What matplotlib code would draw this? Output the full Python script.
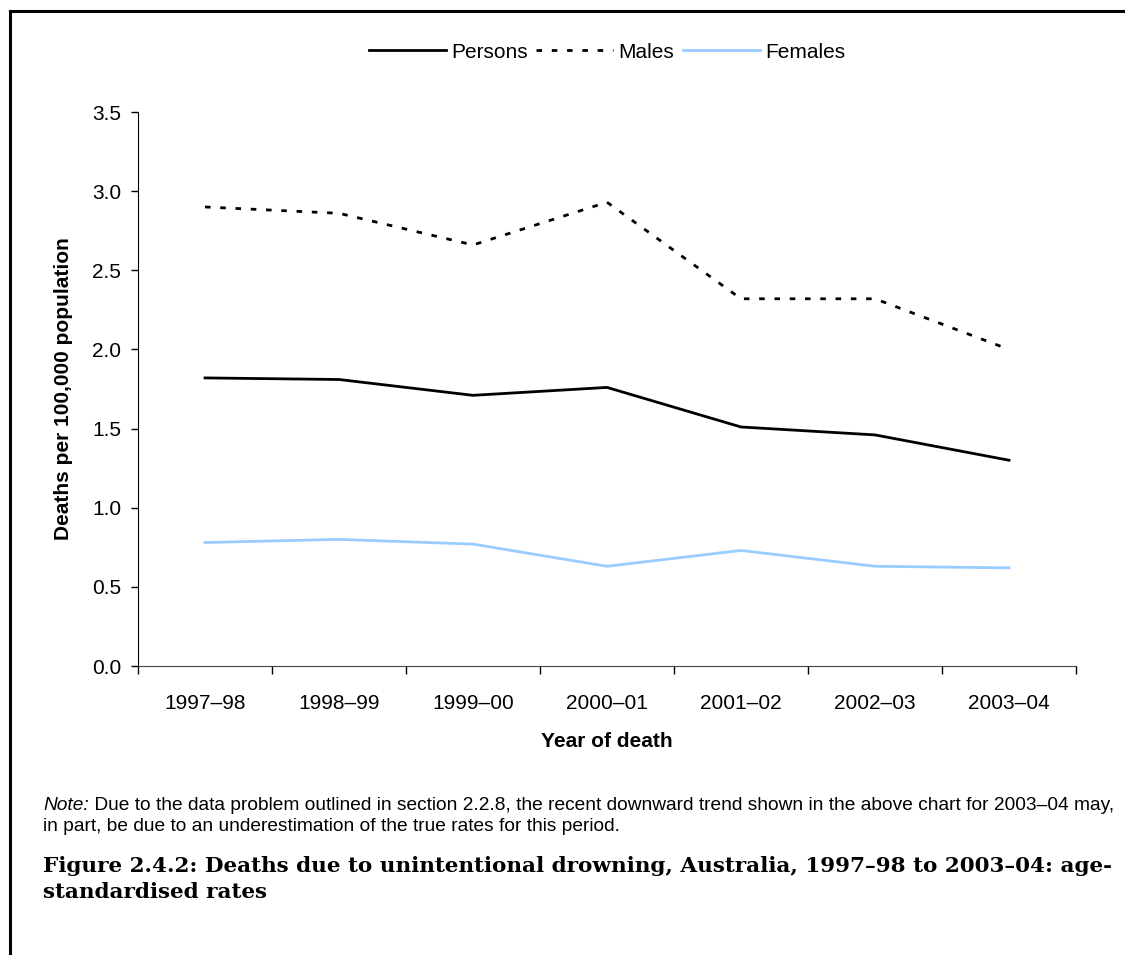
import matplotlib as mpl
mpl.use('Agg')
import matplotlib.pyplot as plt
from matplotlib.lines import Line2D

plt.rcParams['font.family'] = ['Liberation Sans', 'DejaVu Sans']

years = ["1997–98", "1998–99", "1999–00", "2000–01", "2001–02", "2002–03", "2003–04"]
persons = [1.82, 1.81, 1.71, 1.76, 1.51, 1.46, 1.30]
males = [2.90, 2.86, 2.66, 2.93, 2.32, 2.32, 2.00]
females = [0.78, 0.80, 0.77, 0.63, 0.73, 0.63, 0.62]
yticks = [0.0, 0.5, 1.0, 1.5, 2.0, 2.5, 3.0, 3.5]

note1 = " Due to the data problem outlined in section 2.2.8, the recent downward trend shown in the above chart for 2003–04 may,"
note2 = "in part, be due to an underestimation of the true rates for this period."
cap1 = "Figure 2.4.2: Deaths due to unintentional drowning, Australia, 1997–98 to 2003–04: age-"
cap2 = "standardised rates"

W, H = 1125, 955
fig = plt.figure(figsize=(W/100, H/100), dpi=100)
ax = fig.add_axes([138/W, 1-666/H, (1076-138)/W, (666-112)/H])

x = list(range(len(years)))
ax.plot(x, persons, color='black', lw=2, label='Persons')
ax.plot(x, males, color='black', lw=2, linestyle=(0, (2, 3.5)), label='Males')
ax.plot(x, females, color='#99ccff', lw=2, label='Females')

ax.set_xlim(-0.5, len(years)-0.5)
ax.set_ylim(0, 3.5)
ax.set_yticks(yticks)
ax.set_yticklabels([f"{v:.1f}" for v in yticks])
ax.set_xticks([i-0.5 for i in range(len(years)+1)])
ax.set_xticklabels([])
ax.set_xticks(x, minor=True)
ax.set_xticklabels(years, minor=True)
ax.tick_params(axis='x', which='major', length=6, direction='out', width=1)
ax.tick_params(axis='x', which='minor', length=0, pad=20, labelsize=15)
ax.tick_params(axis='y', length=5, direction='out', width=1, labelsize=15, pad=7)
for s in ['top', 'right']:
    ax.spines[s].set_visible(False)
ax.spines['bottom'].set_color('#444444')
ax.spines['left'].set_color('black')

ax.set_xlabel("Year of death", fontsize=15, fontweight='bold', labelpad=14)
ax.set_ylabel("Deaths per 100,000 population", fontsize=15, fontweight='bold', labelpad=14)

fig.legend(loc='center', bbox_to_anchor=(607/W, 1-52/H), ncol=3, frameon=False,
           fontsize=15, handlelength=3.7, handletextpad=0.25, columnspacing=0.4)

# page frame (top and left edges only)
fig.add_artist(Line2D([10/W, 1], [1-11/H]*2, color='black', lw=2.2))
fig.add_artist(Line2D([10/W]*2, [0, 1-11/H], color='black', lw=2.2))

r = fig.canvas.get_renderer()
nfs = 13.75
t_note = fig.text(43/W, 1-805/H, "Note:", fontsize=nfs, fontstyle='italic', va='center', ha='left')
wn = t_note.get_window_extent(r).width
fig.text((43+wn)/W, 1-805/H, note1, fontsize=nfs, va='center', ha='left')
fig.text(43/W, 1-826/H, note2, fontsize=nfs, va='center', ha='left')

# caption sized to span the same width as in the source
c1 = fig.text(43/W, 1-866/H, cap1, fontsize=16, fontweight='bold',
              family=['DejaVu Serif'], va='center', ha='left')
cfs = 16 * 1067 / c1.get_window_extent(r).width
c1.set_fontsize(cfs)
fig.text(43/W, 1-892/H, cap2, fontsize=cfs, fontweight='bold',
         family=['DejaVu Serif'], va='center', ha='left')

fig.savefig("out.png", dpi=100)
